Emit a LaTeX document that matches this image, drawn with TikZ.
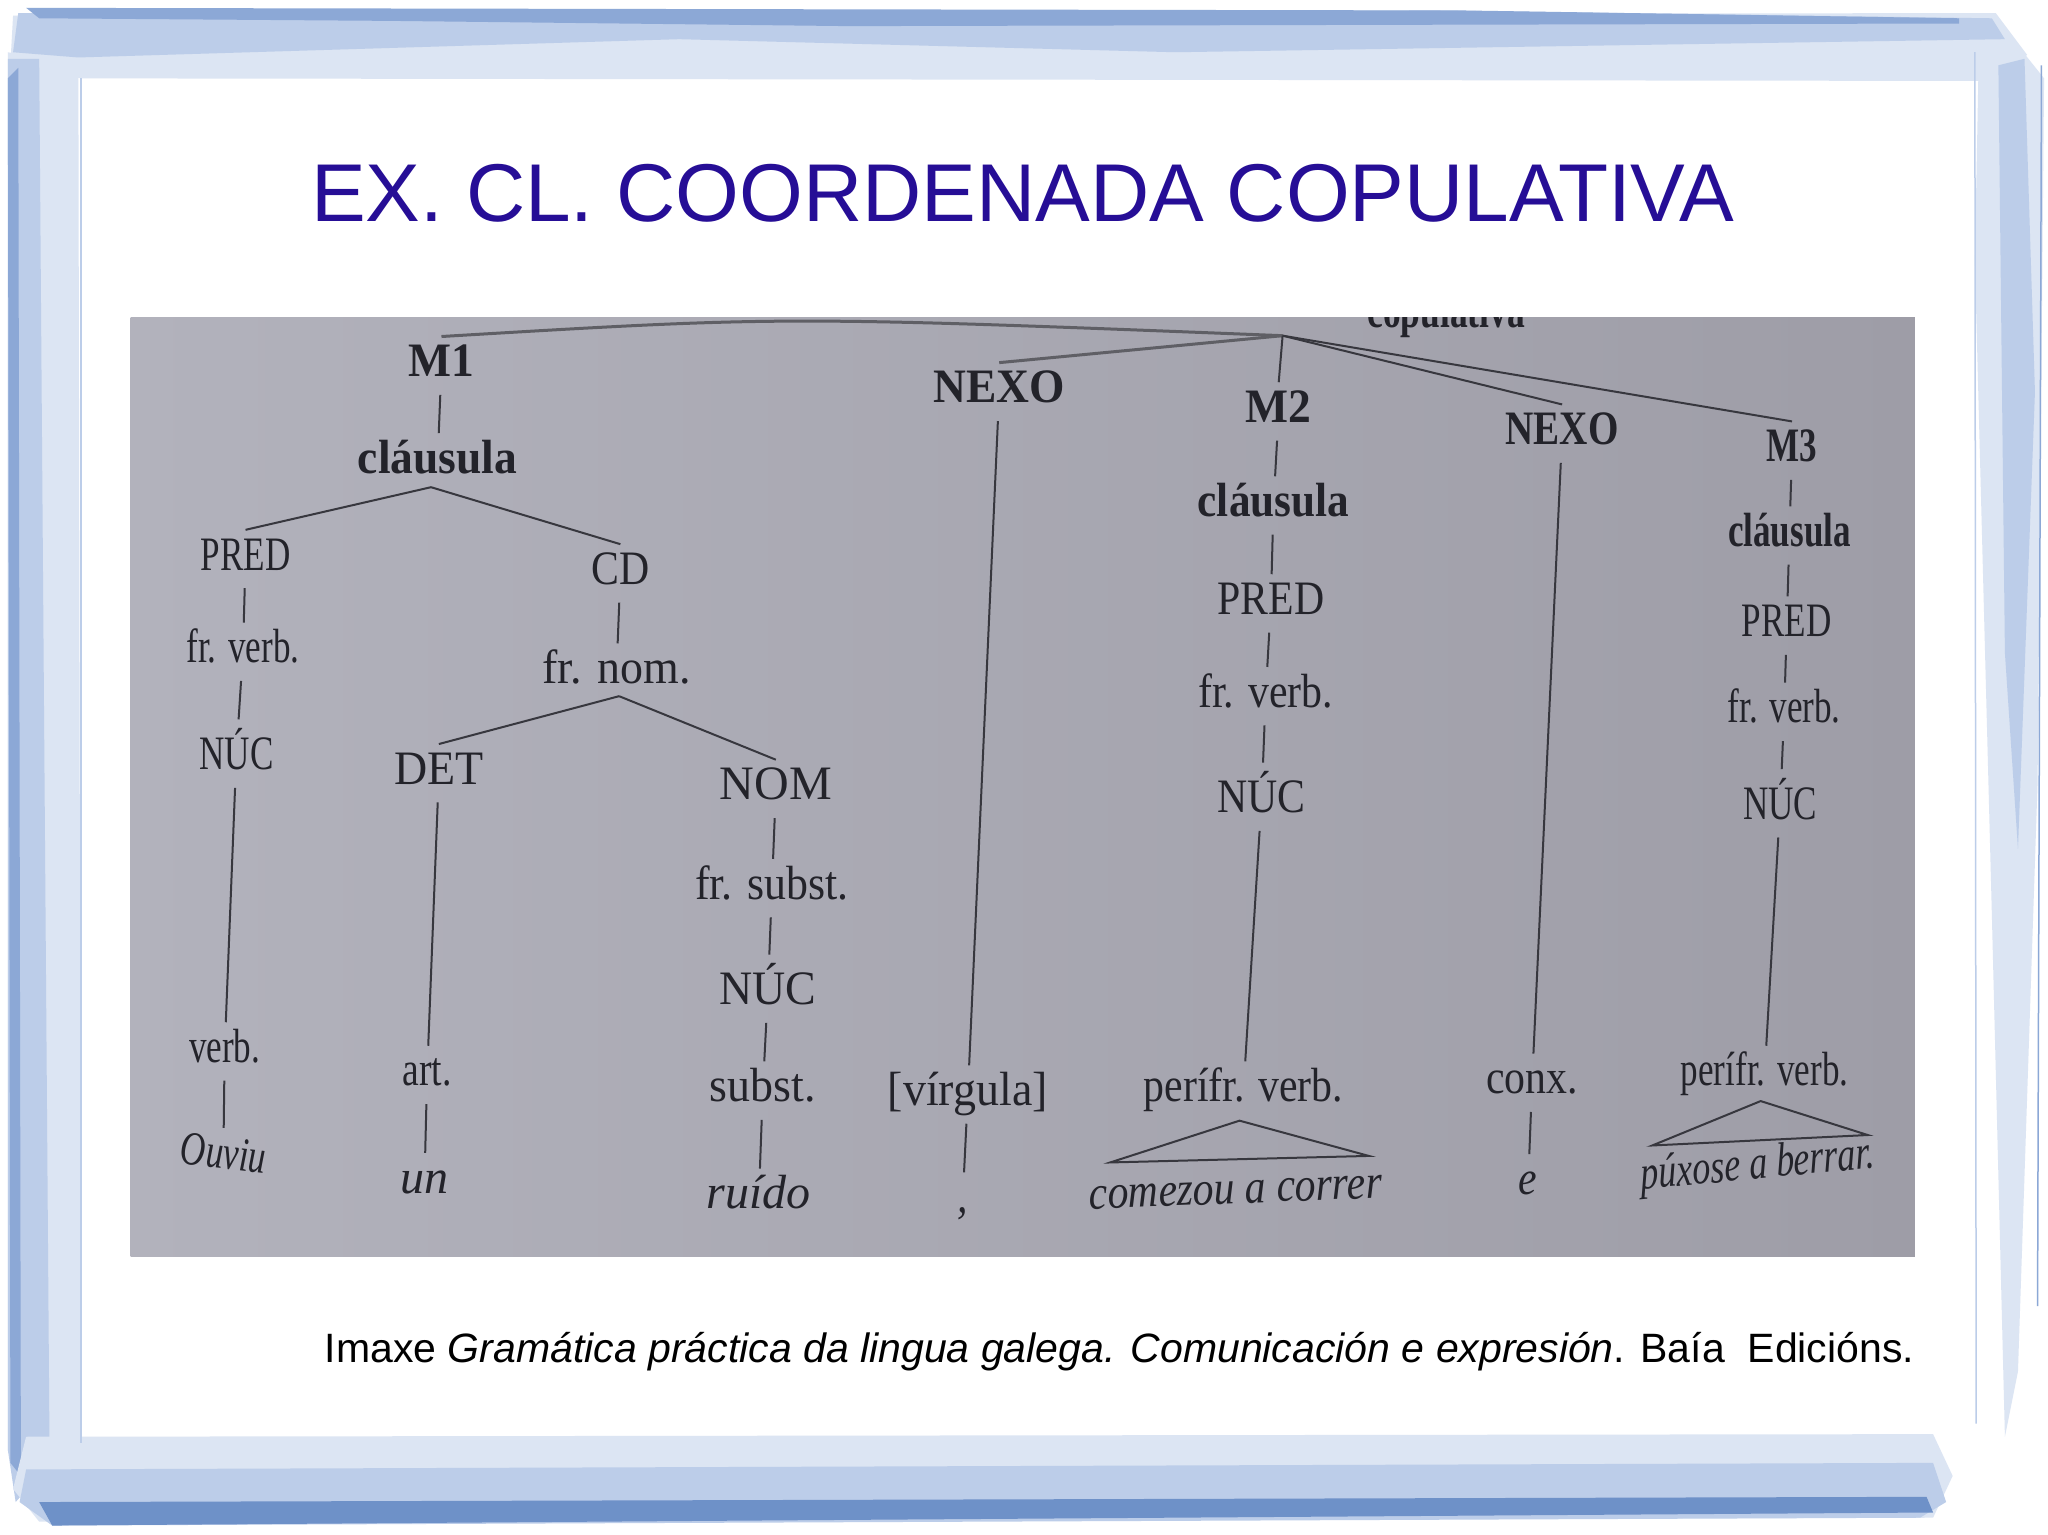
\documentclass[tikz,border=0pt]{standalone}
\usepackage{fontspec}
\setmainfont{Liberation Serif}
\newfontfamily\capsans{Liberation Sans}
\definecolor{ttl}{RGB}{38,14,150}
\definecolor{ink}{RGB}{35,35,42}
\definecolor{lnk}{RGB}{55,55,62}
\definecolor{phA}{RGB}{178,178,188}
\definecolor{phB}{RGB}{158,157,167}
\definecolor{fA}{RGB}{220,229,243}
\definecolor{fB}{RGB}{188,205,233}
\definecolor{fC}{RGB}{140,168,214}
\definecolor{fD}{RGB}{110,145,200}
\begin{document}
\begin{tikzpicture}[x=1.30612pt,y=-1.30612pt,
  lab/.style={font=\fontsize{48}{48}\selectfont, xscale=0.87, text=ink, inner xsep=4pt, inner ysep=8pt, text height=32pt, text depth=10pt},
  nlab/.style={lab, xscale=0.84},
  acc/.style={text height=42pt},
  blab/.style={lab, font=\fontsize{48}{48}\selectfont\bfseries, xscale=1.09},
  nblab/.style={blab, xscale=0.77},
  ilab/.style={lab, font=\fontsize{48}{48}\selectfont\itshape},
  br/.style={draw=lnk, line width=2pt},
  top/.style={draw=lnk!80!white, line width=3pt}]
\useasboundingbox (0,0) rectangle (1568,1175);
\fill[white] (0,0) rectangle (1568,1175);
% ---- frame ----
\fill[fA] (10,12) -- (1528,10) -- (1552,42) -- (1530,62) -- (62,60) -- (8,48) -- cycle;
\fill[fB] (14,10) -- (1100,8) -- (1525,14) -- (1535,30) -- (900,40) -- (520,30) -- (60,44) -- (10,40) -- cycle;
\fill[fC] (20,6) -- (1120,8) -- (1500,14) -- (1500,18) -- (650,20) -- (300,16) -- (30,14) -- cycle;
\fill[fA] (6,40) -- (60,50) -- (62,1105) -- (20,1150) -- (6,1110) -- cycle;
\fill[fB] (6,45) -- (30,45) -- (38,1120) -- (12,1150) -- (6,1110) -- cycle;
\fill[fC] (6,60) -- (14,52) -- (16,1130) -- (8,1120) -- cycle;
\fill[fA] (20,1100) -- (1480,1098) -- (1495,1130) -- (1480,1162) -- (30,1165) -- (10,1140) -- cycle;
\fill[fB] (20,1125) -- (1480,1120) -- (1490,1150) -- (1470,1162) -- (40,1168) -- (15,1150) -- cycle;
\fill[fD] (30,1150) -- (1475,1146) -- (1480,1158) -- (600,1164) -- (40,1168) -- cycle;
\fill[fA] (1515,40) -- (1545,35) -- (1565,60) -- (1560,600) -- (1545,1050) -- (1535,1100) -- (1525,700) -- (1512,200) -- cycle;
\fill[fB] (1530,50) -- (1550,45) -- (1558,300) -- (1545,650) -- (1535,500) -- cycle;
\draw[fC, line width=1.5pt] (1563,50) -- (1560,1000);
\draw[fB, line width=1.5pt] (1512,40) -- (1513,1090);
\draw[fB, line width=1.2pt] (62,60) -- (62,1105);
% ---- title ----
\node[font=\capsans\fontsize{82}{82}\selectfont, text=ttl] (title) at (783,148) {EX. CL. COORDENADA COPULATIVA};
% ---- photo ----
\fill[left color=phA, right color=phB] (100,243) rectangle (1466,962);
\begin{scope}
\clip (100,243) rectangle (1466,962);
\node[blab, xscale=0.78, anchor=base east] (cop) at (1170,251) {copulativa};
\end{scope}
% ---- tree nodes ----
\coordinate (root) at (982,257);
\node[blab] (m1) at (338,280) {M1};
\node[blab] (cl1) at (335,354) {cláusula};
\coordinate (a1) at (330,373);
\node[nlab] (pred1) at (188,428) {PRED};
\node[nlab] (fv1) at (186,499) {fr. verb.};
\node[nlab, acc] (nuc1) at (181,577) {NÚC};
\node[nlab] (verb1) at (172,805) {verb.};
\node[ilab, xscale=0.84, rotate=-5] (w1) at (171,886) {Ouviu};
\node[lab] (cd) at (475,439) {CD};
\node[lab, xscale=1.1] (fn) at (472,515) {fr. nom.};
\coordinate (a2) at (474,533);
\node[lab, xscale=1.1] (det) at (336,592) {DET};
\node[lab, xscale=0.9] (art) at (327,823) {art.};
\node[ilab, xscale=1.15] (w2) at (325,905) {un};
\node[lab, xscale=1.15] (nom) at (594,604) {NOM};
\node[lab, xscale=1.05] (fs) at (591,680) {fr. subst.};
\node[lab, acc, xscale=1.1] (nuc2) at (588,757) {NÚC};
\node[lab, xscale=1.1] (subst) at (584,835) {subst.};
\node[ilab, xscale=1.15] (w3) at (581,917) {ruído};
\node[blab] (nexo1) at (765,300) {NEXO};
\node[lab, xscale=1.1] (virg) at (741,838) {[vírgula]};
\node[ilab] (w4) at (737,920) {,};
\node[blab] (m2) at (979,315) {M2};
\node[blab, xscale=0.95] (cl2) at (975,387) {cláusula};
\node[lab] (pred2) at (973,462) {PRED};
\node[lab] (fv2) at (969,533) {fr. verb.};
\node[lab, acc] (nuc3) at (966,610) {NÚC};
\node[lab] (per1) at (952,835) {perífr. verb.};
\coordinate (t1a) at (949,858);
\coordinate (t1l) at (850,890);
\coordinate (t1r) at (1048,885);
\node[ilab, rotate=2] (w5) at (946,913) {comezou a correr};
\node[blab, xscale=0.86] (nexo2) at (1196,332) {NEXO};
\node[lab] (conx) at (1173,829) {conx.};
\node[ilab] (w6) at (1170,906) {e};
\node[nblab] (m3) at (1372,345) {M3};
\node[nblab] (cl3) at (1370,410) {cláusula};
\node[nlab] (pred3) at (1368,479) {PRED};
\node[nlab] (fv3) at (1366,545) {fr. verb.};
\node[nlab, acc] (nuc4) at (1363,615) {NÚC};
\node[nlab] (per2) at (1351,823) {perífr. verb.};
\coordinate (t2a) at (1348,843);
\coordinate (t2l) at (1265,877);
\coordinate (t2r) at (1430,869);
\node[ilab, xscale=0.86, rotate=4] (w7) at (1346,894) {púxose a berrar.};
% ---- top connectors ----
\draw[top] (m1.north) .. controls (600,242) .. (root);
\draw[top] (root) -- (nexo1.north);
\draw[br] (root) -- (m2.north);
\draw[br] (root) -- (nexo2.north);
\draw[br] (root) -- (m3.north);
% ---- M1 branch ----
\draw[br] (m1) -- (cl1);
\draw[br] (a1) -- (pred1.north);
\draw[br] (a1) -- (cd.north);
\draw[br] (pred1) -- (fv1);
\draw[br] (fv1) -- (nuc1);
\draw[br] (nuc1) -- (verb1);
\draw[br] (verb1) -- (w1);
\draw[br] (cd) -- (fn);
\draw[br] (a2) -- (det.north);
\draw[br] (a2) -- (nom.north);
\draw[br] (det) -- (art);
\draw[br] (art) -- (w2);
\draw[br] (nom) -- (fs);
\draw[br] (fs) -- (nuc2);
\draw[br] (nuc2) -- (subst);
\draw[br] (subst) -- (w3);
% ---- NEXO 1 ----
\draw[br] (nexo1) -- (virg);
\draw[br] (virg) -- (w4);
% ---- M2 ----
\draw[br] (m2) -- (cl2);
\draw[br] (cl2) -- (pred2);
\draw[br] (pred2) -- (fv2);
\draw[br] (fv2) -- (nuc3);
\draw[br] (nuc3) -- (per1);
\draw[br] (t1a) -- (t1l) -- (t1r) -- cycle;
% ---- NEXO 2 ----
\draw[br] (nexo2) -- (conx);
\draw[br] (conx) -- (w6);
% ---- M3 ----
\draw[br] (m3) -- (cl3);
\draw[br] (cl3) -- (pred3);
\draw[br] (pred3) -- (fv3);
\draw[br] (fv3) -- (nuc4);
\draw[br] (nuc4) -- (per2);
\draw[br] (t2a) -- (t2l) -- (t2r) -- cycle;
% ---- caption ----
\node[font=\capsans\fontsize{41}{41}\selectfont, text=black, anchor=west] (cap) at (246,1035)
  {Imaxe \textit{Gramática práctica da lingua galega. Comunicación e expresión}. Baía\ \ Edicións.};
\end{tikzpicture}
\end{document}
